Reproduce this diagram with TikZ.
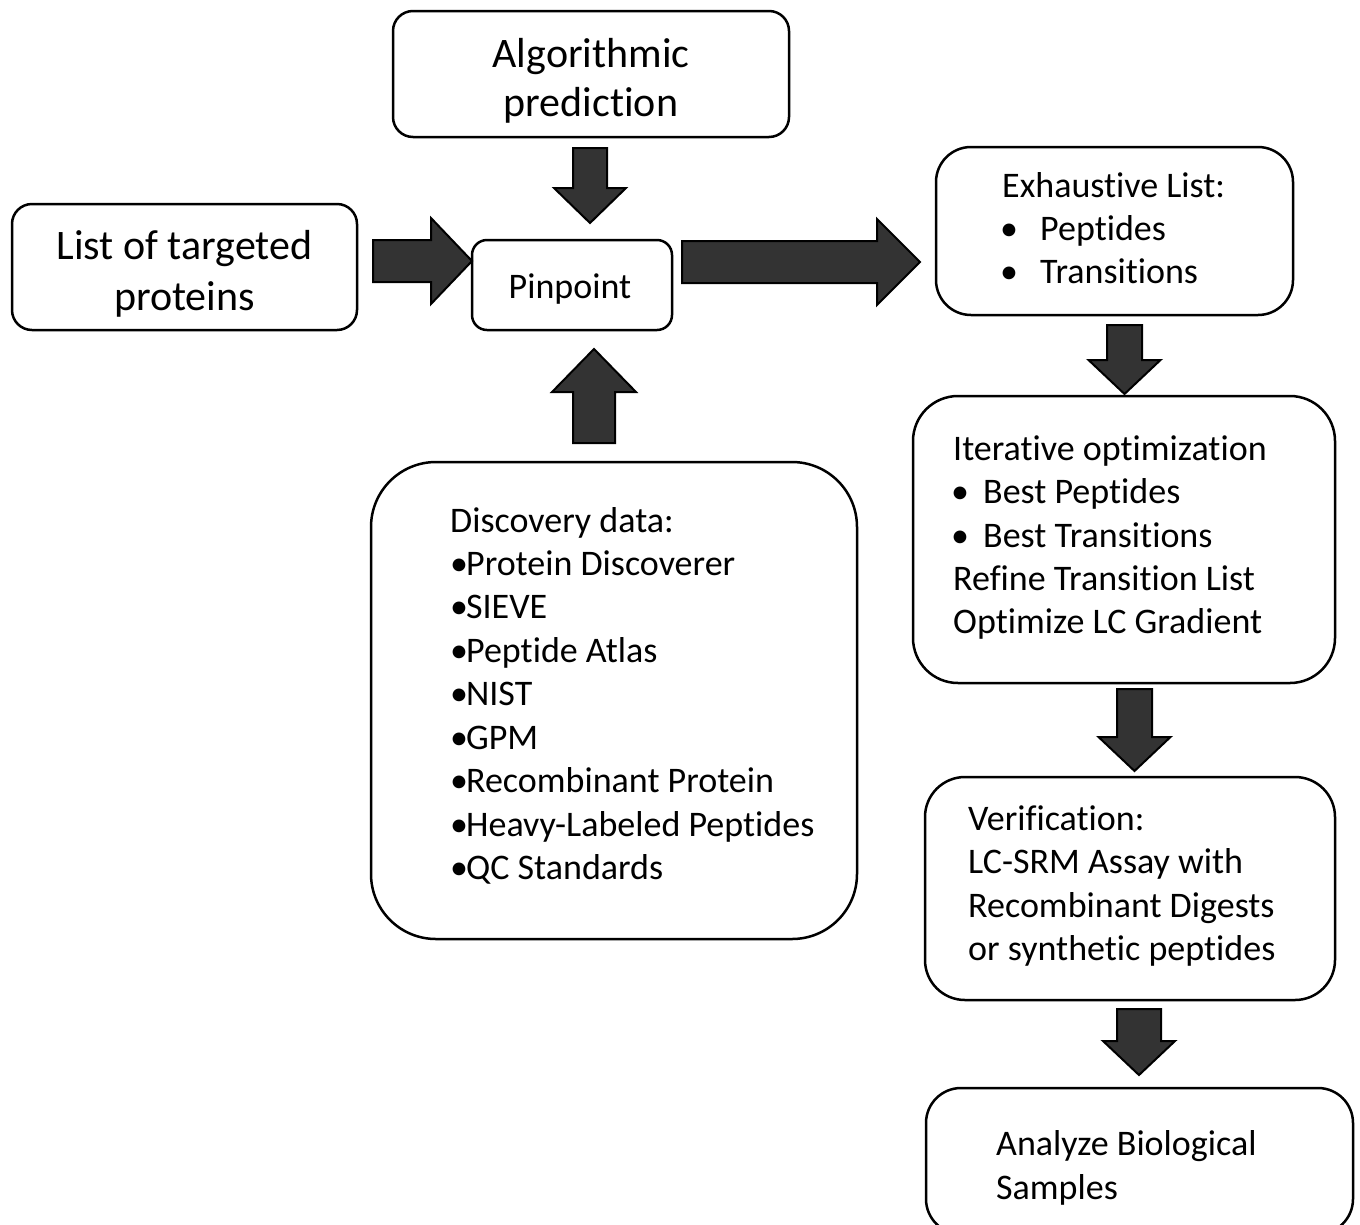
\documentclass[tikz,border=0pt]{standalone}
\usepackage{fontspec}
\setmainfont{Carlito}[Ligatures={CommonOff,ContextualOff}]
\begin{document}
\begin{tikzpicture}[x=1pt,y=-1pt,
  box/.style={draw=black,line width=2.5pt,fill=white,inner sep=0pt},
  blk/.style={draw=black,line width=2pt,fill=black!80,line join=miter},
  big/.style={font=\fontsize{42}{50}\selectfont,inner sep=0pt,yshift=-10.5pt},
  txt/.style={font=\fontsize{36}{43.5}\selectfont,inner sep=0pt,anchor=mid west,yshift=-10pt},
  ctr/.style={font=\fontsize{36}{43.5}\selectfont,inner sep=0pt,anchor=mid,yshift=-10pt}]
\useasboundingbox (0,0) rectangle (1360,1224);
\newcommand\dnarrow[6]{% cx, top, half, base, headhalf, tip
  \draw[blk] ({#1-#3},#2) -- ({#1+#3},#2) -- ({#1+#3},#4) -- ({#1+#5},#4) -- (#1,#6) -- ({#1-#5},#4) -- ({#1-#3},#4) -- cycle;}
\newcommand\rtarrow[6]{% cy, left, half, base, headhalf, tip
  \draw[blk] (#2,{#1-#3}) -- (#4,{#1-#3}) -- (#4,{#1-#5}) -- (#6,#1) -- (#4,{#1+#5}) -- (#4,{#1+#3}) -- (#2,{#1+#3}) -- cycle;}
% boxes
\node[box,rounded corners=20pt,minimum width=396pt,minimum height=126pt] (algo) at (591,74) {};
\node[box,rounded corners=20pt,minimum width=345pt,minimum height=126pt] (list) at (184.5,267) {};
\node[box,rounded corners=15pt,minimum width=200pt,minimum height=90pt] (pin) at (572,285) {};
\node[box,rounded corners=35pt,minimum width=357pt,minimum height=168pt] (exh) at (1114.5,231) {};
\node[box,rounded corners=45pt,minimum width=422pt,minimum height=287pt] (iter) at (1124,539.5) {};
\node[box,rounded corners=40pt,minimum width=410pt,minimum height=223pt] (ver) at (1130,888.5) {};
\node[box,rounded corners=35pt,minimum width=427pt,minimum height=146pt] (ana) at (1139.5,1161) {};
\node[box,rounded corners=65pt,minimum width=486pt,minimum height=477pt] (disc) at (614,700.5) {};
% arrows
\dnarrow{590}{148}{17}{188}{36}{223}
\dnarrow{594}{443}{21}{392}{42}{349}
\rtarrow{261}{373}{21}{431}{43}{472}
\rtarrow{262}{682}{21}{877}{43}{920}
\dnarrow{1124.5}{325}{17.5}{360}{36}{394}
\dnarrow{1134.5}{689}{17.5}{737}{36}{771}
\dnarrow{1139}{1009}{22}{1041}{36}{1075}
% texts
\node[big,anchor=mid] (t1) at (591,55) {Algorithmic};
\node[big,anchor=mid] (t2) at (591,104) {prediction};
\node[big,anchor=mid] (t3) at (184.5,247) {List of targeted};
\node[big,anchor=mid] (t4) at (184.5,298) {proteins};
\node[ctr] (t5) at (570,286) {Pinpoint};
\node[txt] (e1) at (1002,185) {Exhaustive List:};
\node[txt] (e2) at (1000,228) {•};
\node[txt] (e3) at (1040,228) {Peptides};
\node[txt] (e4) at (1000,271) {•};
\node[txt] (e5) at (1040,271) {Transitions};
\node[txt] (i1) at (953,448) {Iterative optimization};
\node[txt] (i2) at (951,491) {•};
\node[txt] (i3) at (983,491) {Best Peptides};
\node[txt] (i4) at (951,535) {•};
\node[txt] (i5) at (983,535) {Best Transitions};
\node[txt] (i6) at (953,578) {Refine Transition List};
\node[txt] (i7) at (953,621) {Optimize LC Gradient};
\node[txt] (v1) at (968,818) {Verification:};
\node[txt] (v2) at (968,861) {LC-SRM Assay with};
\node[txt] (v3) at (968,905) {Recombinant Digests};
\node[txt] (v4) at (968,948) {or synthetic peptides};
\node[txt] (a1) at (996,1143) {Analyze Biological};
\node[txt] (a2) at (996,1187) {Samples};
\node[txt] (d1) at (450,520) {Discovery data:};
\node[txt] (d2) at (450,563) {•\kern-2pt Protein Discoverer};
\node[txt] (d3) at (450,606) {•\kern-2pt SIEVE};
\node[txt] (d4) at (450,650) {•\kern-2pt Peptide Atlas};
\node[txt] (d5) at (450,693) {•\kern-2pt NIST};
\node[txt] (d6) at (450,737) {•\kern-2pt GPM};
\node[txt] (d7) at (450,780) {•\kern-2pt Recombinant Protein};
\node[txt] (d8) at (450,824) {•\kern-2pt Heavy-Labeled Peptides};
\node[txt] (d9) at (450,867) {•\kern-2pt QC Standards};
\end{tikzpicture}
\end{document}
